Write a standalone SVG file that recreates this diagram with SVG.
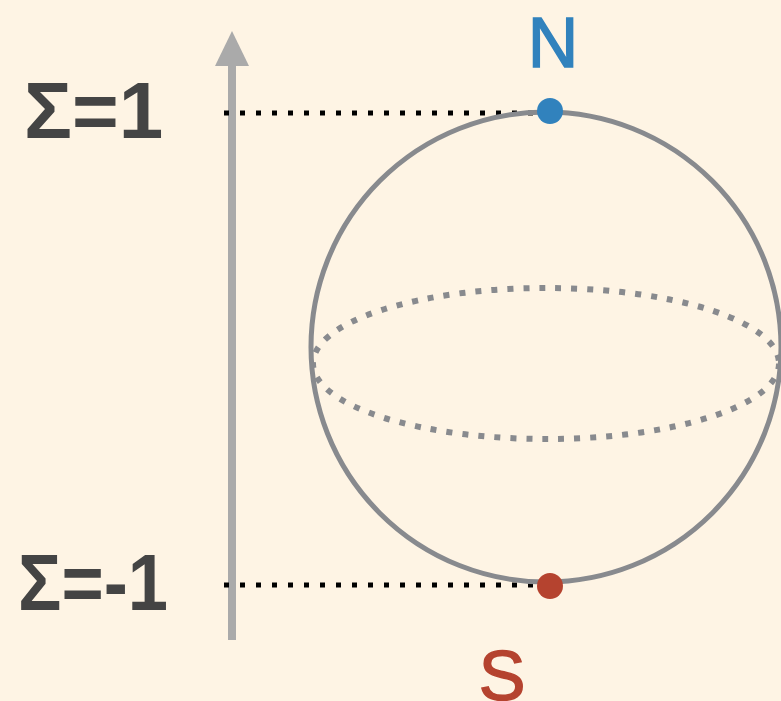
<svg xmlns="http://www.w3.org/2000/svg" width="781" height="701" viewBox="0 0 781 701">
<style>
.lbl{font-family:"Liberation Sans",Arial,sans-serif;font-weight:bold;font-size:80px;fill:#444444}
.pole{font-family:"Liberation Sans",Arial,sans-serif;font-size:70px;stroke-width:1.5}
.guide{stroke:#000;stroke-width:5;stroke-dasharray:5 11;fill:none}
</style>
<rect width="781" height="701" fill="#fef4e4"/>
<g id="axis">
<line x1="232" y1="640" x2="232" y2="60" stroke="#aaaaaa" stroke-width="8"/>
<path d="M232,31 L249,66 L215,66 Z" fill="#aaaaaa"/>
</g>
<g id="connectors">
<line class="guide" x1="224" y1="113" x2="540" y2="113"/>
<line class="guide" x1="224" y1="585" x2="540" y2="585"/>
</g>
<g id="sphere">
<circle cx="546" cy="347" r="235" fill="none" stroke="#888a8e" stroke-width="5"/>
<ellipse cx="546" cy="363.5" rx="233" ry="75.5" fill="none" stroke="#888a8e" stroke-width="6" stroke-dasharray="6 10"/>
</g>
<g id="north">
<circle cx="550" cy="111" r="13" fill="#3182bd"/>
<text class="pole" x="553" y="67" text-anchor="middle" fill="#3182bd" stroke="#3182bd">N</text>
</g>
<g id="south">
<circle cx="550" cy="586" r="13" fill="#b5432f"/>
<text class="pole" x="502" y="700" text-anchor="middle" fill="#b5432f" stroke="#b5432f">S</text>
</g>
<g id="label-top"><text class="lbl" x="24" y="138">Σ=1</text></g>
<g id="label-bottom"><text class="lbl" x="18" y="610" textLength="150" lengthAdjust="spacingAndGlyphs">Σ=-1</text></g>
</svg>
